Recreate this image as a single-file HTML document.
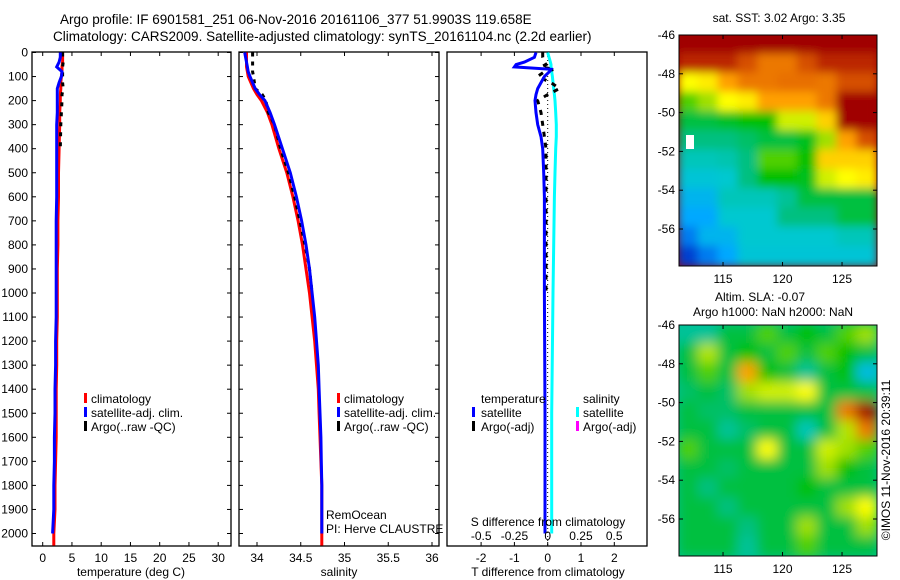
<!DOCTYPE html>
<html><head><meta charset="utf-8"><style>
html,body{margin:0;padding:0;background:#fff;}
svg{display:block;font-family:"Liberation Sans",sans-serif;}
</style></head><body>
<svg id="fig" width="900" height="580" viewBox="0 0 900 580">
<defs>
<filter id="blur" x="-5%" y="-5%" width="110%" height="110%"><feGaussianBlur stdDeviation="6"/></filter>
<filter id="blur2" x="-5%" y="-5%" width="110%" height="110%"><feGaussianBlur stdDeviation="4.5"/></filter>
<clipPath id="clipM1"><rect x="679" y="35" width="198" height="231"/></clipPath>
<clipPath id="clipM2"><rect x="679" y="325" width="198" height="231"/></clipPath>
</defs>
<text x="60" y="24" font-size="13.5">Argo profile: IF 6901581_251 06-Nov-2016 20161106_377 51.9903S 119.658E</text>
<text x="53" y="41" font-size="13.5">Climatology: CARS2009. Satellite-adjusted climatology: synTS_20161104.nc (2.2d earlier)</text>
</svg>
<script>
// ---- profile data ----
const depths = [0,20,40,60,80,100,125,150,175,200,250,300,400,500,600,700,800,900,1000,1100,1200,1300,1400,1500,1600,1700,1800,1900,2000,2050];
const tempClim = [3.4,3.4,3.4,3.3,3.3,3.2,3.1,3.1,3.0,3.0,2.9,2.9,2.8,2.7,2.7,2.6,2.6,2.5,2.5,2.5,2.4,2.4,2.3,2.3,2.3,2.2,2.1,2.1,1.9,1.9];
const tempSat = [3.0,3.0,2.8,2.4,3.3,3.2,2.8,2.5,2.5,2.5,2.5,2.4,2.4,2.4,2.4,2.3,2.3,2.3,2.3,2.3,2.2,2.2,2.1,2.1,2.0,2.0,1.9,1.9,1.7,null];
const tempArgo = [3.4,3.4,3.5,3.4,3.4,3.4,3.4,3.5,3.3,3.3,3.2,3.1,3.0,null,null,null,null,null,null,null,null,null,null,null,null,null,null,null,null,null];
const salClim = [33.88,33.88,33.88,33.88,33.89,33.9,33.93,33.96,34.0,34.05,34.12,34.17,34.25,34.34,34.41,34.47,34.52,34.56,34.6,34.63,34.66,34.68,34.7,34.71,34.72,34.73,34.74,34.74,34.74,34.74];
const salSat = [33.86,33.87,33.88,33.89,33.9,33.92,33.95,33.98,34.03,34.09,34.15,34.2,34.29,34.38,34.45,34.51,34.56,34.6,34.63,34.66,34.68,34.7,34.71,34.72,34.73,34.735,34.74,34.74,34.74,null];
const salArgo = [33.95,33.95,33.95,33.95,33.95,33.96,33.97,33.98,34.06,34.1,34.13,34.2,34.27,34.36,34.43,34.49,34.55,34.6,34.63,null,null,null,null,null,null,null,null,null,null,null];
const diffDepths = [0,20,40,50,60,70,80,100,125,150,175,200,250,300,350,400,500,600,800,1000,1500,2000];
const tDiffSat = [-0.35,-0.4,-0.7,-0.95,-1.0,0.1,0.05,-0.1,-0.2,-0.3,-0.35,-0.38,-0.35,-0.3,-0.2,-0.15,-0.12,-0.1,-0.1,-0.1,-0.08,-0.08];
const sDiffSat = [0.0,0.01,0.02,0.025,0.025,0.03,0.03,0.035,0.04,0.045,0.05,0.055,0.06,0.065,0.065,0.06,0.055,0.05,0.045,0.04,0.03,0.03];
const tDiffArgo = [-0.15,-0.15,-0.1,-0.05,-0.2,0.2,-0.1,-0.3,0.1,0.35,0.0,-0.3,-0.2,-0.15,-0.1,-0.05,-0.05,-0.05,-0.05,-0.05,null,null];
const depthTicks = [0,100,200,300,400,500,600,700,800,900,1000,1100,1200,1300,1400,1500,1600,1700,1800,1900,2000];
const tempTicks = [0,5,10,15,20,25,30];
const salTicks = [34,34.5,35,35.5,36];
const salTickLabels = ["34","34.5","35","35.5","36"];
const tDiffTicks = [-2,-1,0,1,2];
const sDiffTicks = [-0.5,-0.25,0,0.25,0.5];
const sDiffTickLabels = ["-0.5","-0.25","0","0.25","0.5"];
const latTicks = [-46,-48,-50,-52,-54,-56];
const lonTicks = [115,120,125];
// ---- map data (rows top->bottom, 1 deg lat each; 10 lon cols), normalized colour index 0..1 ----
const sstGrid = [
[1,1,1,1,1,1,1,1,1,1],
[0.95,0.95,0.95,0.9,0.85,0.85,0.9,0.95,0.95,0.95],
[0.7,0.72,0.8,0.85,0.85,0.86,0.86,0.85,0.9,0.9],
[0.55,0.6,0.7,0.72,0.8,0.8,0.8,0.85,1,1],
[0.45,0.45,0.47,0.5,0.5,0.65,0.65,0.75,1,1],
[0.4,0.4,0.4,0.42,0.45,0.45,0.48,0.6,0.8,0.9],
[0.35,0.35,0.36,0.4,0.55,0.55,0.5,0.75,0.75,0.75],
[0.32,0.32,0.33,0.4,0.5,0.5,0.48,0.65,0.7,0.72],
[0.28,0.28,0.35,0.35,0.35,0.38,0.45,0.45,0.45,0.45],
[0.25,0.25,0.33,0.33,0.33,0.4,0.4,0.4,0.45,0.45],
[0.2,0.28,0.28,0.33,0.33,0.33,0.33,0.33,0.35,0.35],
[0.12,0.2,0.25,0.32,0.32,0.32,0.32,0.32,0.32,0.32]];
const slaGrid = [
[0.38,0.38,0.45,0.45,0.55,0.45,0.5,0.45,0.55,0.6],
[0.45,0.62,0.45,0.5,0.45,0.55,0.45,0.55,0.5,0.45],
[0.45,0.55,0.45,0.8,0.5,0.45,0.38,0.45,0.5,0.3],
[0.42,0.45,0.42,0.6,0.65,0.65,0.7,0.45,0.45,0.45],
[0.45,0.42,0.42,0.45,0.45,0.45,0.45,0.45,0.85,1],
[0.45,0.45,0.38,0.42,0.45,0.45,0.35,0.45,0.62,0.85],
[0.55,0.45,0.45,0.45,0.7,0.45,0.45,0.65,0.6,0.55],
[0.45,0.45,0.42,0.45,0.45,0.45,0.45,0.6,0.5,0.45],
[0.45,0.4,0.45,0.45,0.45,0.45,0.5,0.45,0.45,0.45],
[0.45,0.45,0.4,0.45,0.45,0.45,0.45,0.45,0.6,0.7],
[0.45,0.45,0.45,0.4,0.45,0.45,0.6,0.45,0.45,0.6],
[0.45,0.45,0.45,0.38,0.45,0.45,0.55,0.45,0.45,0.45]];

const NS='http://www.w3.org/2000/svg';
const svg=document.getElementById('fig');
function mk(tag,attrs,parent){const e=document.createElementNS(NS,tag);for(const k in attrs)e.setAttribute(k,attrs[k]);(parent||svg).appendChild(e);return e;}

const D0=52.5, DPX=0.2405, BOT=546;
function yD(d){return D0+d*DPX;}
const xT=v=>42.7+v*5.85;
const xS=v=>257+(v-34)*87.5;
const xTd=v=>547.7+v*33.3;
const xSd=v=>547.7+v*133;

function frame(x0,x1,name){
  const r=mk('rect',{x:x0,y:52,width:x1-x0,height:BOT-52,fill:'none',stroke:'#000','stroke-width':1.3});
  
  
  depthTicks.forEach(d=>{
    mk('line',{x1:x0,x2:x0+4,y1:yD(d),y2:yD(d),stroke:'#000'});
    mk('line',{x1:x1,x2:x1-4,y1:yD(d),y2:yD(d),stroke:'#000'});
  });
}
function xticks(x0,x1,vals,fx,labels,name){
  vals.forEach((v,i)=>{
    const x=fx(v);
    mk('line',{x1:x,x2:x,y1:BOT,y2:BOT-4,stroke:'#000'});
    mk('line',{x1:x,x2:x,y1:52,y2:56,stroke:'#000'});
    if(labels){const t=mk('text',{x:x,y:BOT+16,'font-size':12,'text-anchor':'middle'});t.textContent=labels[i];
      
      }
  });
}
function line(xs,ds,fx,color,name,dash){
  let segs=[],cur=[];
  for(let i=0;i<ds.length;i++){
    if(xs[i]===null||xs[i]===undefined){if(cur.length)segs.push(cur);cur=[];continue;}
    cur.push(fx(xs[i]).toFixed(1)+','+yD(ds[i]).toFixed(1));
  }
  if(cur.length)segs.push(cur);
  segs.forEach(s=>{
    const p=mk('polyline',{points:s.join(' '),fill:'none',stroke:color,'stroke-width':3,'stroke-linejoin':'miter'});
    if(dash)p.setAttribute('stroke-dasharray',dash);
    
    
  });
}
function txt(x,y,s,name,size,anchor){
  const t=mk('text',{x:x,y:y,'font-size':size||12,'text-anchor':anchor||'start'});t.textContent=s;
  
  
  return t;
}
function legBar(x,y,color,name){
  const r=mk('rect',{x:x,y:y-10,width:3,height:10,fill:color});
  
  
}

// panel 1 temperature
frame(32,231,'temperature-panel');
depthTicks.forEach(d=>{txt(28,yD(d)+4,String(d),'depth-tick-label',12,'end');});
xticks(32,231,tempTicks,xT,tempTicks.map(String),'temperature');
line(tempClim,depths,xT,'#ff0000','temperature-climatology-line');
line(tempArgo,depths,xT,'#000','temperature-argo-line','4 6');
line(tempSat,depths,xT,'#0000ff','temperature-satellite-line');
txt(131,576,'temperature (deg C)','temperature-axis-title',12,'middle');
legBar(84,403,'#ff0000','legend-climatology-swatch');txt(91,403,'climatology','legend-climatology');
legBar(84,417,'#0000ff','legend-satellite-swatch');txt(91,417,'satellite-adj. clim.','legend-satellite');
legBar(84,431,'#000','legend-argo-swatch');txt(91,431,'Argo(..raw -QC)','legend-argo');

// panel 2 salinity
frame(239,439,'salinity-panel');
xticks(239,439,salTicks,xS,salTickLabels,'salinity');
line(salClim,depths,xS,'#ff0000','salinity-climatology-line');
line(salArgo,depths,xS,'#000','salinity-argo-line','4 5');
line(salSat,depths,xS,'#0000ff','salinity-satellite-line');
txt(339,576,'salinity','salinity-axis-title',12,'middle');
legBar(337,403,'#ff0000','legend2-climatology-swatch');txt(344,403,'climatology','legend2-climatology');
legBar(337,417,'#0000ff','legend2-satellite-swatch');txt(344,417,'satellite-adj. clim.','legend2-satellite');
legBar(337,431,'#000','legend2-argo-swatch');txt(344,431,'Argo(..raw -QC)','legend2-argo');
txt(326,519,'RemOcean','project-label');
txt(326,533,'PI: Herve CLAUSTRE','pi-label');

// panel 3 differences
const r3=mk('rect',{x:447,y:52,width:200,height:BOT-52,fill:'none',stroke:'#000','stroke-width':1.3});


xticks(447,647,tDiffTicks,xTd,tDiffTicks.map(String),'t-difference');
mk('line',{x1:547.7,x2:547.7,y1:52,y2:BOT,stroke:'#000','stroke-dasharray':'1 3'});
line(sDiffSat,diffDepths,xSd,'#00ffff','salinity-difference-satellite-line');
line(tDiffArgo,diffDepths,xTd,'#000','temperature-difference-argo-line','5 6');
line(tDiffSat,diffDepths,xTd,'#0000ff','temperature-difference-satellite-line');
txt(481,403,'temperature','legend3-temperature-heading');
txt(583,403,'salinity','legend3-salinity-heading');
legBar(472,417,'#0000ff','legend3-t-satellite-swatch');txt(481,417,'satellite','legend3-t-satellite');
legBar(472,431,'#000','legend3-t-argo-swatch');txt(481,431,'Argo(-adj)','legend3-t-argo');
legBar(576,417,'#00ffff','legend3-s-satellite-swatch');txt(583,417,'satellite','legend3-s-satellite');
legBar(576,431,'#ff00ff','legend3-s-argo-swatch');txt(583,431,'Argo(-adj)','legend3-s-argo');
txt(548,526,'S difference from climatology','s-difference-axis-title',12,'middle');
sDiffTicks.forEach((v,i)=>{txt(xSd(v),540,sDiffTickLabels[i],'s-difference-tick-label',12,'middle');});
txt(548,576,'T difference from climatology','t-difference-axis-title',12,'middle');

// maps
const stops=[[0,[0,0,143]],[0.15,[0,80,224]],[0.25,[0,168,255]],[0.33,[0,200,208]],[0.4,[0,192,128]],[0.5,[0,192,0]],[0.6,[160,224,0]],[0.7,[255,255,0]],[0.8,[255,160,0]],[0.88,[224,96,0]],[1,[160,0,0]]];
function cmap(v){
  for(let i=1;i<stops.length;i++){if(v<=stops[i][0]){const a=stops[i-1],b=stops[i];const t=(v-a[0])/(b[0]-a[0]);
    const c=a[1].map((x,k)=>Math.round(x+(b[1][k]-x)*t));return 'rgb('+c.join(',')+')';}}
  return 'rgb(160,0,0)';
}
const lonX=l=>679+(l-111.3)*11.9;
function drawMap(grid,y0,clip,filt,name){
  const g=mk('g',{'clip-path':'url(#'+clip+')'});
  
  
  const bg=mk('rect',{x:679,y:y0,width:198,height:231,fill:cmap(grid[0][0])},g);
  const inner=mk('g',{filter:'url(#'+filt+')'},g);
  const cw=198/grid[0].length, ch=231/grid.length;
  grid.forEach((row,ri)=>row.forEach((v,ci)=>{
    const r=mk('rect',{x:679+ci*cw-1,y:y0+ri*ch-1,width:cw+2,height:ch+2,fill:cmap(v)},inner);
    
    
  }));
  const f=mk('rect',{x:679,y:y0,width:198,height:231,fill:'none',stroke:'#000','stroke-width':1});
  
  
  latTicks.forEach(la=>{const y=y0+(-46-la)*19.4;
    mk('line',{x1:679,x2:683,y1:y,y2:y,stroke:'#000'});mk('line',{x1:877,x2:873,y1:y,y2:y,stroke:'#000'});
    txt(675,y+4,String(la),name+'-lat-label',12,'end');});
  lonTicks.forEach(lo=>{const x=lonX(lo);
    mk('line',{x1:x,x2:x,y1:y0,y2:y0+4,stroke:'#000'});mk('line',{x1:x,x2:x,y1:y0+231,y2:y0+227,stroke:'#000'});
    txt(x,y0+248,String(lo),name+'-lon-label',12,'middle');});
}
drawMap(sstGrid,35,'clipM1','blur2','sst-map');
drawMap(slaGrid,325,'clipM2','blur','sla-map');
// white gaps in SST map
const w1=mk('rect',{x:686,y:135,width:8,height:14,fill:'#fff'});


txt(779,22,'sat. SST: 3.02  Argo: 3.35','sst-map-title',12,'middle');
txt(760,301,'Altim. SLA: -0.07','sla-map-title',12,'middle');
txt(773,316,'Argo h1000: NaN h2000: NaN','sla-map-subtitle',12,'middle');
const cp=txt(0,0,'\u00A9IMOS 11-Nov-2016 20:39:11','copyright-label',12,'middle');
cp.setAttribute('transform','translate(890,460) rotate(-90)');
</script>
</body></html>
